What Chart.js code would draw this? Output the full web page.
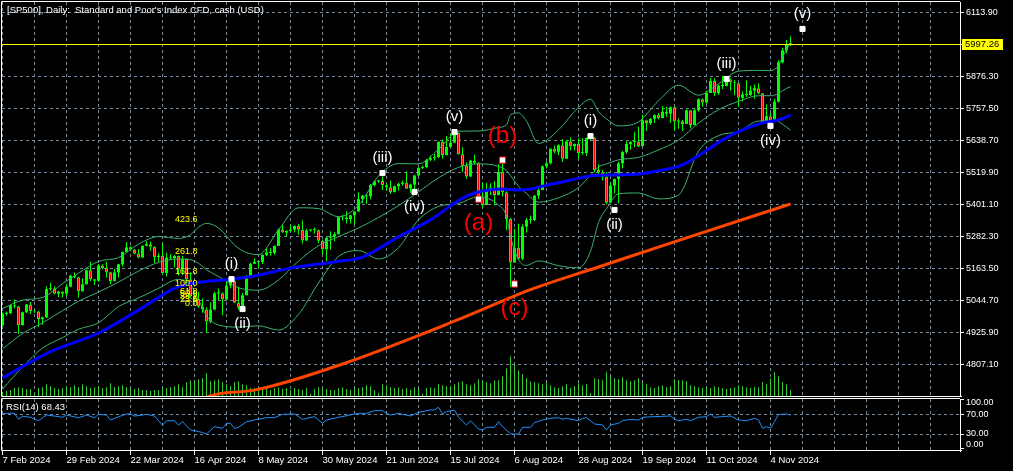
<!DOCTYPE html>
<html>
<head>
<meta charset="utf-8">
<script src="https://cdn.jsdelivr.net/npm/chart.js@4.4.1/dist/chart.umd.min.js"></script>
<style>
  html, body { margin: 0; background: #000; }
  #wrap { position: relative; width: 1013px; height: 471px; background: #000; overflow: hidden; }
  #main { position: absolute; left: 0; top: 0; }
  #rsi { position: absolute; left: 0; top: 397px; }
</style>
</head>
<body>
<div id="wrap">
  <canvas id="main" width="1013" height="397"></canvas>
  <canvas id="rsi" width="1013" height="74"></canvas>
</div>
<script>
// ---- data ----
const dateLabels = ['7 Feb 2024', '29 Feb 2024', '22 Mar 2024', '16 Apr 2024', '8 May 2024', '30 May 2024',
  '21 Jun 2024', '15 Jul 2024', '6 Aug 2024', '28 Aug 2024', '19 Sep 2024', '11 Oct 2024', '4 Nov 2024'];
const priceTicks = [4807.10, 4925.90, 5044.70, 5163.50, 5282.30, 5401.10, 5519.90, 5638.70, 5757.50, 5876.30, 5995.10, 6113.90];
const rsiTicks = [0, 30, 70, 100];

const firstOpen = 4954;
const closes = [
  4995, 4998, 5027, 5022, 4953, 5001, 5030, 5006, 5004, 4976,
  4982, 5087, 5089, 5070, 5078, 5070, 5096, 5137, 5131, 5079,
  5105, 5157, 5124, 5118, 5175, 5165, 5150, 5117, 5149, 5179,
  5225, 5242, 5234, 5218, 5204, 5248, 5254, 5244, 5206, 5211,
  5147, 5204, 5202, 5210, 5161, 5199, 5123, 5062, 5051, 5022,
  5011, 4967, 5011, 5071, 5072, 5048, 5100, 5116, 5036, 5018,
  5064, 5128, 5181, 5188, 5188, 5214, 5223, 5221, 5247, 5308,
  5297, 5303, 5308, 5321, 5307, 5268, 5305, 5306, 5306, 5267,
  5235, 5278, 5283, 5291, 5354, 5353, 5347, 5361, 5375, 5421,
  5434, 5432, 5473, 5487, 5488, 5473, 5465, 5448, 5469, 5478,
  5483, 5460, 5475, 5509, 5537, 5540, 5567, 5573, 5577, 5634,
  5585, 5615, 5631, 5667, 5588, 5545, 5505, 5564, 5556, 5427,
  5399, 5459, 5464, 5436, 5522, 5447, 5347, 5186, 5240, 5200,
  5319, 5344, 5344, 5434, 5455, 5543, 5554, 5608, 5597, 5621,
  5571, 5635, 5617, 5626, 5592, 5592, 5648, 5650, 5529, 5520,
  5503, 5408, 5471, 5496, 5554, 5596, 5626, 5633, 5635, 5618,
  5714, 5703, 5719, 5733, 5722, 5745, 5738, 5762, 5709, 5710,
  5700, 5751, 5696, 5751, 5792, 5780, 5815, 5860, 5815, 5842,
  5841, 5865, 5854, 5851, 5797, 5810, 5808, 5824, 5833, 5814,
  5705, 5729, 5713, 5783, 5929, 5973, 5996, 5997
];
const highs = [
  5000, 5004, 5030, 5048, 5025, 5003, 5032, 5039, 5010, 5006,
  4984, 5097, 5111, 5097, 5080, 5078, 5104, 5140, 5149, 5133,
  5127, 5160, 5189, 5125, 5180, 5179, 5189, 5151, 5162, 5181,
  5226, 5262, 5246, 5236, 5236, 5249, 5265, 5264, 5246, 5221,
  5256, 5222, 5216, 5214, 5212, 5211, 5201, 5150, 5075, 5077,
  5052, 5019, 5038, 5077, 5089, 5074, 5115, 5124, 5118, 5096,
  5073, 5139, 5184, 5201, 5191, 5216, 5239, 5239, 5250, 5312,
  5325, 5305, 5325, 5324, 5329, 5342, 5311, 5309, 5315, 5308,
  5270, 5280, 5302, 5298, 5357, 5362, 5376, 5362, 5376, 5447,
  5436, 5440, 5477, 5490, 5492, 5505, 5479, 5490, 5472, 5482,
  5490, 5524, 5479, 5510, 5539, 5545, 5570, 5583, 5590, 5635,
  5642, 5655, 5666, 5669, 5668, 5614, 5557, 5567, 5586, 5558,
  5480, 5481, 5480, 5488, 5551, 5566, 5450, 5350, 5312, 5330,
  5328, 5351, 5360, 5436, 5463, 5546, 5562, 5609, 5620, 5625,
  5644, 5641, 5651, 5628, 5646, 5647, 5651, 5655, 5651, 5551,
  5529, 5522, 5484, 5497, 5560, 5600, 5636, 5637, 5671, 5690,
  5734, 5716, 5722, 5736, 5741, 5767, 5764, 5765, 5765, 5720,
  5715, 5754, 5752, 5757, 5796, 5795, 5823, 5871, 5870, 5846,
  5879, 5878, 5869, 5863, 5852, 5822, 5862, 5842, 5847, 5851,
  5815, 5772, 5741, 5794, 5937, 5983, 6012, 6025
];
const lows = [
  4950, 4988, 4995, 5016, 4920, 4953, 4998, 4995, 4998, 4946,
  4955, 4980, 5081, 5068, 5057, 5056, 5061, 5094, 5127, 5056,
  5078, 5104, 5117, 5102, 5114, 5161, 5130, 5105, 5115, 5130,
  5171, 5225, 5229, 5216, 5202, 5204, 5246, 5229, 5184, 5189,
  5146, 5134, 5195, 5167, 5138, 5139, 5103, 5055, 5040, 5017,
  4999, 4924, 4960, 5011, 5047, 4990, 5048, 5089, 5035, 5010,
  5011, 5064, 5128, 5180, 5165, 5180, 5209, 5211, 5215, 5247,
  5296, 5284, 5299, 5297, 5290, 5256, 5266, 5300, 5293, 5258,
  5217, 5191, 5234, 5265, 5290, 5342, 5331, 5331, 5327, 5375,
  5406, 5403, 5421, 5468, 5482, 5455, 5453, 5440, 5446, 5452,
  5471, 5459, 5444, 5452, 5507, 5533, 5536, 5562, 5564, 5573,
  5571, 5583, 5614, 5630, 5587, 5522, 5497, 5504, 5550, 5417,
  5390, 5399, 5436, 5398, 5436, 5431, 5306, 5095, 5186, 5195,
  5194, 5296, 5330, 5340, 5422, 5455, 5535, 5550, 5591, 5584,
  5560, 5571, 5602, 5602, 5570, 5585, 5581, 5640, 5521, 5504,
  5490, 5402, 5408, 5441, 5406, 5535, 5590, 5604, 5614, 5615,
  5618, 5674, 5696, 5704, 5717, 5721, 5727, 5704, 5676, 5682,
  5674, 5700, 5684, 5696, 5745, 5764, 5775, 5815, 5804, 5808,
  5830, 5840, 5824, 5807, 5763, 5784, 5800, 5805, 5794, 5810,
  5703, 5704, 5696, 5711, 5780, 5925, 5962, 5990
];
// tick volume, thousands
const volumes = [
  4, 5, 6, 8, 9, 8, 7, 7, 3, 8, 9, 12, 10, 8, 7, 8,
  10, 9, 11, 9, 12, 10, 8, 9, 10, 8, 9, 13, 9, 10, 11, 9,
  8, 7, 8, 6, 6, 5, 6, 6, 8, 8, 9, 10, 12, 9, 14, 16,
  15, 17, 18, 23, 15, 16, 17, 14, 12, 10, 14, 15, 12, 11, 8, 8,
  9, 8, 7, 6, 8, 9, 7, 8, 6, 8, 7, 6, 8, 2, 7, 9,
  8, 7, 6, 6, 8, 9, 7, 6, 7, 8, 9, 11, 10, 6, 3, 12,
  11, 9, 8, 9, 7, 8, 6, 9, 7, 2, 8, 9, 8, 12, 11, 10,
  10, 12, 14, 15, 12, 11, 13, 17, 16, 14, 13, 16, 16, 20, 28, 40,
  32, 26, 22, 18, 15, 14, 13, 12, 14, 11, 9, 8, 10, 12, 8, 10,
  13, 11, 12, 3, 18, 17, 16, 24, 20, 18, 17, 19, 16, 15, 16, 18,
  14, 12, 9, 8, 10, 11, 9, 10, 17, 16, 16, 15, 11, 10, 9, 8,
  9, 8, 10, 9, 8, 7, 8, 9, 11, 10, 9, 8, 9, 9, 14, 12,
  18, 24, 20, 14, 12, 6
];

// Bollinger bands (20, 2), sampled along the bars
const bbIdx = [0, 5, 10, 15, 19, 24, 29, 34, 39, 44, 47, 49, 51, 54, 59, 64, 69, 74, 79, 84, 89, 94, 99, 104,
  109, 114, 119, 124, 126, 127, 129, 131, 134, 139, 144, 147, 149, 151, 154, 159, 164, 169, 174, 179, 184, 189,
  192, 194, 195, 196, 197];
const bbMid = [4865, 4922, 4962, 5007, 5042, 5076, 5113, 5154, 5186, 5199, 5196, 5183, 5159, 5134, 5092, 5083,
  5121, 5191, 5248, 5282, 5314, 5353, 5397, 5448, 5500, 5539, 5552, 5543, 5527, 5508, 5469, 5442, 5410, 5426,
  5464, 5510, 5540, 5552, 5567, 5576, 5604, 5640, 5703, 5753, 5784, 5805, 5805, 5813, 5823, 5832, 5839];
const bbUpper = [5015, 5046, 5056, 5107, 5146, 5190, 5204, 5254, 5282, 5275, 5289, 5317, 5331, 5314, 5238, 5215,
  5307, 5389, 5386, 5356, 5398, 5507, 5553, 5552, 5606, 5673, 5674, 5687, 5697, 5734, 5741, 5710, 5628, 5678,
  5762, 5792, 5746, 5719, 5693, 5708, 5786, 5844, 5807, 5849, 5896, 5899, 5898, 5917, 5947, 5976, 6001];
const bbLower = [4715, 4798, 4868, 4907, 4938, 4962, 5022, 5054, 5090, 5123, 5103, 5049, 4987, 4954, 4946, 4951,
  4935, 4993, 5110, 5208, 5230, 5199, 5241, 5344, 5394, 5405, 5430, 5399, 5357, 5282, 5197, 5175, 5192, 5174,
  5166, 5227, 5334, 5385, 5441, 5444, 5422, 5436, 5599, 5657, 5672, 5711, 5712, 5709, 5699, 5688, 5677];

// moving averages (blue 50, orange 200)
const ma50Idx = [0, 12, 24, 34, 43, 48, 57, 63, 72, 83, 90, 99, 107, 115, 120, 125, 129, 132, 136, 140, 147,
  153, 159, 165, 170, 175, 180, 185, 190, 194, 197];
const ma50 = [4757, 4855, 4924, 5009, 5090, 5110, 5124, 5136, 5165, 5188, 5206, 5281, 5344, 5425, 5451, 5459,
  5455, 5459, 5473, 5485, 5507, 5511, 5514, 5529, 5548, 5592, 5641, 5678, 5704, 5715, 5733];
const ma200Idx = [48, 54, 63, 85, 115, 132, 149, 167, 197];
const ma200 = [4672, 4698, 4712, 4809, 4980, 5085, 5169, 5258, 5403];

// RSI(14)
const rsiIdx = [0, 1, 3, 4, 5, 7, 9, 11, 13, 15, 16, 19, 21, 23, 24, 26, 27, 29, 31, 32, 33, 35, 36, 38, 40,
  41, 43, 44, 45, 47, 49, 50, 51, 53, 55, 56, 57, 58, 59, 61, 63, 66, 68, 70, 73, 75, 78, 80, 81, 84, 89, 91,
  93, 95, 96, 97, 99, 102, 104, 107, 108, 109, 110, 111, 113, 114, 116, 117, 119, 120, 121, 123, 124, 125,
  126, 127, 129, 130, 132, 133, 135, 137, 139, 140, 141, 144, 145, 146, 148, 150, 151, 152, 154, 155, 157,
  159, 160, 163, 167, 168, 169, 171, 172, 174, 176, 177, 178, 180, 182, 184, 186, 188, 189, 190, 191, 192,
  193, 194, 196, 197];
const rsiVal = [71, 72, 72, 60, 66, 64, 57, 68.5, 66.5, 64, 68.5, 63, 68.5, 63, 70, 68.5, 58.5, 65, 70.7, 70.7,
  66.5, 68.5, 70, 66.5, 48, 57, 57, 48, 55, 38, 35, 33, 30, 45, 41.5, 51.7, 51.7, 41.6, 43.6, 55, 58.5, 63.2,
  63.2, 70, 70.7, 59.8, 65.3, 51.7, 58.5, 63.9, 72, 72, 77.4, 77.4, 72, 68.6, 72, 66.6, 74, 78.8, 78.8, 84.2,
  70.7, 75.4, 78.8, 63.9, 48.3, 57, 40, 38.2, 43.6, 43.6, 55, 45, 38.2, 30, 30, 43.6, 43.6, 53, 58.5, 61.9,
  63.2, 59.8, 61.9, 57, 61.9, 63.2, 50.4, 48.3, 38.2, 48.3, 51.7, 57, 59.8, 58.5, 63.9, 65.3, 66.6, 59.8, 57,
  59.8, 57, 63.9, 65.3, 70.7, 63.9, 65.3, 66.6, 58.5, 57, 61.9, 58.5, 41.6, 45, 41.6, 55, 70, 70.7, 68.4];
const rsiNow = 68.43;

// Elliott wave marks
const waveText = ['(i)', '(ii)', '(iii)', '(iv)', '(v)', '(a)', '(b)', '(c)', '(i)', '(ii)', '(iii)', '(iv)', '(v)'];
const waveIdx = [57.25, 60, 95, 103, 113, 119, 125, 128, 147, 153, 181, 192, 200];
const wavePrice = [5124, 5013, 5518, 5448, 5670, 5421, 5566, 5106, 5655, 5381, 5867, 5693, 6053];

// Fibonacci expansion labels
const fibLevels = [0, 23.6, 38.2, 50, 61.8, 100, 161.8, 261.8, 423.6];
const fibBase = 5032;
const fibRange = 74;

const lastPrice = 5997.26;

// ---- build ----
const GRID = '#778899';
const GREEN = '#00ff00';
const FS = 9.5;
Chart.defaults.font.family = 'Liberation Sans';
Chart.defaults.font.size = FS;
Chart.defaults.color = '#ffffff';

const opens = closes.map((c, i) => (i === 0 ? firstOpen : closes[i - 1]));
const pts = (xs, ys) => xs.map((x, i) => ({ x: x, y: ys[i] }));
const isRed = t => t === '(a)' || t === '(b)' || t === '(c)';
const noPad = s => { s.paddingTop = 0; s.paddingBottom = 0; s.paddingLeft = 0; s.paddingRight = 0; };

function xAxis(withLabels) {
  return {
    type: 'linear', min: -0.125, max: 239.375, offset: false,
    afterBuildTicks: s => {
      const t = [];
      for (let v = 0; v <= 232; v += 8) t.push({ value: v });
      s.ticks = t;
    },
    afterFit: s => { s.height = withLabels ? 20 : 0; noPad(s); },
    grid: {
      color: GRID, lineWidth: 1, offset: false,
      drawTicks: withLabels, tickLength: 4, tickBorderDash: [],
      tickColor: c => (c.tick && c.tick.value % 16 === 0 && c.tick.value <= 192 ? '#ffffff' : 'rgba(0,0,0,0)')
    },
    border: { display: false, dash: [3, 3] },
    ticks: {
      display: withLabels, autoSkip: false, maxRotation: 0, minRotation: 0, align: 'start', padding: 0,
      color: '#ffffff', font: { size: FS },
      callback: v => (v % 16 === 0 && v / 16 < dateLabels.length ? dateLabels[v / 16] : '')
    }
  };
}

const mainOverlay = {
  id: 'mainOverlay',
  afterDatasetsDraw(chart) {
    const { ctx, chartArea: a, scales: { x, y } } = chart;
    ctx.save();
    // current price line
    const py = Math.round(y.getPixelForValue(lastPrice)) + 0.5;
    ctx.strokeStyle = '#ffff00';
    ctx.lineWidth = 1;
    ctx.beginPath();
    ctx.moveTo(a.left, py);
    ctx.lineTo(a.right, py);
    ctx.stroke();

    // fibo labels
    ctx.font = '9px "Liberation Sans"';
    ctx.fillStyle = '#ffff00';
    ctx.textAlign = 'right';
    ctx.textBaseline = 'middle';
    const fx = x.getPixelForValue(48.75);
    fibLevels.forEach(l => {
      ctx.fillText(l.toFixed(1), fx, y.getPixelForValue(fibBase + fibRange * l / 100));
    });

    // wave labels
    ctx.textAlign = 'center';
    waveText.forEach((t, i) => {
      const above = i % 2 === 0;
      const red = isRed(t);
      const off = red ? 24 : 15;
      ctx.font = (red ? 24 : 15) + 'px "Liberation Sans"';
      ctx.fillStyle = red ? '#ff0000' : '#ffffff';
      const px = x.getPixelForValue(waveIdx[i]);
      const pyy = y.getPixelForValue(wavePrice[i]) + (above ? -off : off);
      ctx.fillText(t, px, pyy);
    });
    ctx.restore();
  },
  afterDraw(chart) {
    const { ctx, chartArea: a, scales: { y } } = chart;
    ctx.save();
    ctx.strokeStyle = '#ffffff';
    ctx.lineWidth = 1;
    ctx.beginPath();
    ctx.moveTo(a.right, a.top - 0.5);
    ctx.lineTo(1.5, a.top - 0.5);
    ctx.lineTo(1.5, a.bottom + 0.5);
    ctx.lineTo(a.right + 2, a.bottom + 0.5);
    ctx.stroke();

    ctx.font = FS + 'px "Liberation Sans"';
    ctx.fillStyle = '#ffffff';
    ctx.textAlign = 'left';
    ctx.textBaseline = 'middle';
    ctx.fillText("[SP500], Daily:  Standard and Poor's Index CFD, cash (USD)", 7, 10);

    const py = Math.round(y.getPixelForValue(lastPrice));
    ctx.fillStyle = '#ffff00';
    ctx.fillRect(a.right + 2, py - 5, 41, 11);
    ctx.fillStyle = '#000000';
    ctx.fillText(lastPrice.toFixed(2), a.right + 5, py + 0.5);
    ctx.restore();
  }
};

new Chart(document.getElementById('main'), {
  type: 'line',
  data: {
    datasets: [
      {
        type: 'bar', label: 'Volume', yAxisID: 'yv', order: 10, grouped: false,
        data: volumes.map((v, i) => ({ x: i, y: v })),
        backgroundColor: '#32cd32', barThickness: 1, maxBarThickness: 1, inflateAmount: 0
      },
      {
        type: 'bar', label: 'Wick', order: 9, grouped: false,
        data: closes.map((c, i) => ({ x: i, y: [lows[i], highs[i]] })),
        backgroundColor: GREEN, barThickness: 1, maxBarThickness: 1, inflateAmount: 0, minBarLength: 1
      },
      {
        type: 'bar', label: 'Body', order: 8, grouped: false,
        data: closes.map((c, i) => ({ x: i, y: [opens[i], c] })),
        backgroundColor: closes.map((c, i) => (c >= opens[i] ? GREEN : '#ff0000')),
        borderColor: GREEN,
        borderWidth: closes.map((c, i) => (c >= opens[i] ? 0 : 1)),
        borderSkipped: false, barThickness: 3, maxBarThickness: 3, inflateAmount: 0, minBarLength: 1
      },
      { label: 'BB up', order: 7, data: pts(bbIdx, bbUpper), borderColor: '#3cb371', borderWidth: 1, pointRadius: 0, cubicInterpolationMode: 'monotone' },
      { label: 'BB mid', order: 7, data: pts(bbIdx, bbMid), borderColor: '#3cb371', borderWidth: 1, pointRadius: 0, cubicInterpolationMode: 'monotone' },
      { label: 'BB low', order: 7, data: pts(bbIdx, bbLower), borderColor: '#3cb371', borderWidth: 1, pointRadius: 0, cubicInterpolationMode: 'monotone' },
      { label: 'MA50', order: 6, data: pts(ma50Idx, ma50), borderColor: '#0000ff', borderWidth: 3, pointRadius: 0, cubicInterpolationMode: 'monotone' },
      { label: 'MA200', order: 5, data: pts(ma200Idx, ma200), borderColor: '#ff4500', borderWidth: 3, pointRadius: 0, cubicInterpolationMode: 'monotone' },
      {
        label: 'Waves', order: 1, showLine: false,
        data: pts(waveIdx, wavePrice),
        pointStyle: 'rect', pointBorderWidth: 1,
        pointRadius: waveText.map(t => (isRed(t) ? 4.4 : 3.6)),
        pointBackgroundColor: '#ffffff',
        pointBorderColor: waveText.map(t => (isRed(t) ? '#ff0000' : '#ffffff'))
      }
    ]
  },
  options: {
    responsive: false, animation: false, events: [], devicePixelRatio: 1,
    layout: { autoPadding: false, padding: { left: 2, top: 2, right: 0, bottom: 1 } },
    plugins: { legend: { display: false }, tooltip: { enabled: false } },
    scales: {
      x: xAxis(false),
      y: {
        type: 'linear', position: 'right', min: 4690.2, max: 6152.9,
        afterBuildTicks: s => { s.ticks = priceTicks.map(v => ({ value: v })); },
        afterFit: s => { s.width = 53; noPad(s); },
        grid: { color: GRID, tickLength: 4, tickColor: '#ffffff', tickBorderDash: [] },
        border: { display: true, color: '#ffffff', width: 1, dash: [3, 3] },
        ticks: { color: '#ffffff', padding: 2, font: { size: 9 }, callback: v => v.toFixed(2) }
      },
      yv: { type: 'linear', display: false, min: 0, max: 400 }
    }
  },
  plugins: [mainOverlay]
});

const rsiOverlay = {
  id: 'rsiOverlay',
  afterDraw(chart) {
    const { ctx, chartArea: a, scales: { y } } = chart;
    ctx.save();
    ctx.strokeStyle = '#ffffff';
    ctx.lineWidth = 1;
    ctx.beginPath();
    ctx.moveTo(a.right, a.top - 0.5);
    ctx.lineTo(1.5, a.top - 0.5);
    ctx.lineTo(1.5, a.bottom - 0.5);
    ctx.lineTo(a.right + 2, a.bottom - 0.5);
    ctx.stroke();

    ctx.font = FS + 'px "Liberation Sans"';
    ctx.fillStyle = '#ffffff';
    ctx.textAlign = 'left';
    ctx.textBaseline = 'middle';
    ctx.fillText('RSI(14) ' + rsiNow.toFixed(2), 6, a.top + 8);
    ctx.font = '9px "Liberation Sans"';
    rsiTicks.forEach(v => {
      let py = y.getPixelForValue(v);
      py = Math.min(Math.max(py, a.top + 4), a.bottom - 6);
      ctx.fillText(v.toFixed(2), a.right + 6, py);
    });
    ctx.restore();
  }
};

new Chart(document.getElementById('rsi'), {
  type: 'line',
  data: {
    datasets: [
      { label: 'RSI', data: pts(rsiIdx, rsiVal), borderColor: '#1e90ff', borderWidth: 1, pointRadius: 0, tension: 0 }
    ]
  },
  options: {
    responsive: false, animation: false, events: [], devicePixelRatio: 1,
    layout: { autoPadding: false, padding: { left: 2, top: 2, right: 0, bottom: 0 } },
    plugins: { legend: { display: false }, tooltip: { enabled: false } },
    scales: {
      x: xAxis(true),
      y: {
        type: 'linear', position: 'right', min: -4.5, max: 101.1,
        afterBuildTicks: s => { s.ticks = rsiTicks.map(v => ({ value: v })); },
        afterFit: s => { s.width = 53; noPad(s); },
        grid: {
          color: c => (c.tick && (c.tick.value === 30 || c.tick.value === 70) ? GRID : 'rgba(0,0,0,0)'),
          tickLength: 4, tickColor: '#ffffff', tickBorderDash: []
        },
        border: { display: true, color: '#ffffff', width: 1, dash: [3, 3] },
        ticks: { display: false }
      }
    }
  },
  plugins: [rsiOverlay]
});
</script>
</body>
</html>
